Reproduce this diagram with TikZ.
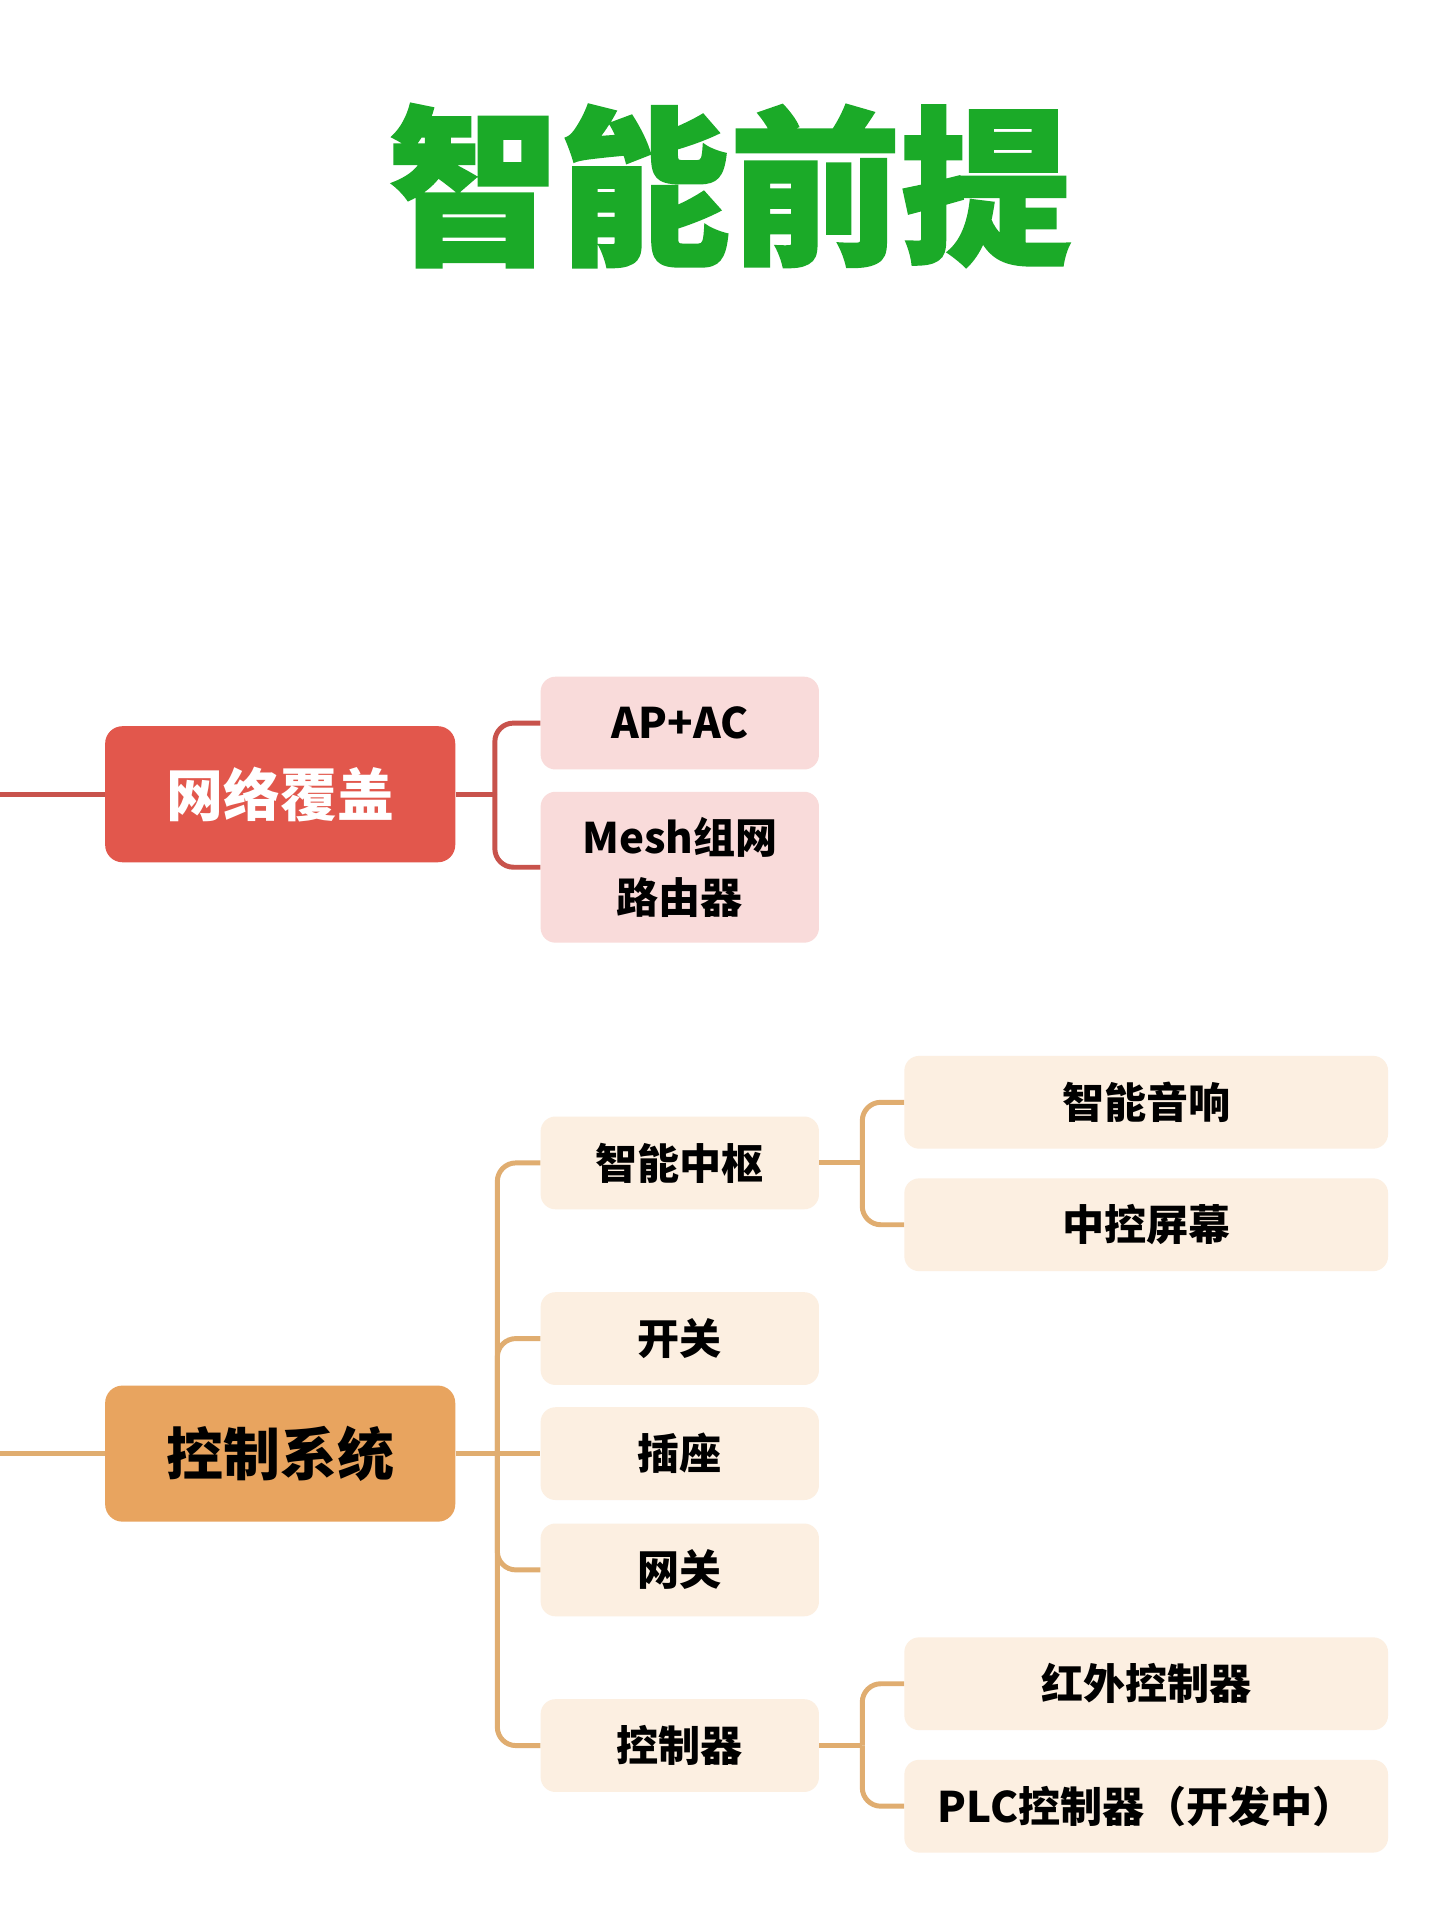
\documentclass[tikz,border=0pt]{standalone}
\usepackage{fontspec}
\setmainfont{Noto Sans CJK SC}
\newfontfamily\titlefont{Noto Sans CJK SC}[BoldFeatures={FakeBold=1.5}]
\definecolor{titlegreen}{HTML}{1BAA28}
\definecolor{netred}{HTML}{E2574C}
\definecolor{netline}{HTML}{C8534C}
\definecolor{netpink}{HTML}{F9DBDA}
\definecolor{ctrlorange}{HTML}{E8A45F}
\definecolor{ctrlline}{HTML}{E0AD70}
\definecolor{ctrlcream}{HTML}{FCEFE1}
\tikzset{
  mainbox/.style={rounded corners=14pt, minimum width=283pt, minimum height=110pt, inner sep=0pt,
    font=\fontsize{46pt}{52pt}\selectfont\bfseries},
  childbox/.style={rounded corners=12pt, minimum width=225pt, minimum height=75pt, inner sep=0pt,
    align=center, font=\fontsize{34pt}{48pt}\selectfont\bfseries},
  leafbox/.style={rounded corners=12pt, minimum width=391pt, minimum height=75pt, inner sep=0pt,
    font=\fontsize{34pt}{40pt}\selectfont\bfseries, fill=ctrlcream},
  netlink/.style={draw=netline, line width=4pt, rounded corners=15pt},
  ctrllink/.style={draw=ctrlline, line width=4pt, rounded corners=15pt},
}
\begin{document}
\begin{tikzpicture}[x=1pt, y=-1pt]
\useasboundingbox[fill=white] (0,0) rectangle (1164,1552);
% title
\node[text=titlegreen, inner sep=0pt, font=\titlefont\fontsize{138pt}{150pt}\selectfont\bfseries] (title) at (590,150) {智能前提};
% network section
\coordinate (l1) at (0,642);
\coordinate (j1) at (400,642);
\node[mainbox, fill=netred, text=white] (net) at (226.5,642) {网络覆盖};
\node[childbox, fill=netpink] (ap) at (549.5,584.5) {AP+AC};
\node[childbox, fill=netpink, minimum height=122pt] (mesh) at (549.5,701) {Mesh组网\\路由器};
\draw[netlink] (l1) -- (net.west);
\draw[netlink] (net.east) -- (j1);
\draw[netlink] (j1) |- (ap.west);
\draw[netlink] (j1) |- (mesh.west);
% control section
\coordinate (l2) at (0,1175);
\coordinate (j2) at (402,1175);
\coordinate (j3) at (697,940);
\coordinate (j4) at (697,1411);
\node[mainbox, fill=ctrlorange, text=black] (ctrl) at (226.5,1175) {控制系统};
\node[childbox, fill=ctrlcream] (zn) at (549.5,940) {智能中枢};
\node[childbox, fill=ctrlcream] (kg) at (549.5,1082) {开关};
\node[childbox, fill=ctrlcream] (cz) at (549.5,1175) {插座};
\node[childbox, fill=ctrlcream] (wg) at (549.5,1269) {网关};
\node[childbox, fill=ctrlcream] (kzq) at (549.5,1411) {控制器};
\node[leafbox] (yx) at (926.5,891) {智能音响};
\node[leafbox] (pm) at (926.5,990) {中控屏幕};
\node[leafbox] (hw) at (926.5,1361) {红外控制器};
\node[leafbox] (plc) at (926.5,1460) {PLC控制器（开发中）};
\draw[ctrllink] (l2) -- (ctrl.west);
\draw[ctrllink] (ctrl.east) -- (j2);
\draw[ctrllink] (j2) |- (zn.west);
\draw[ctrllink] (j2) |- (kg.west);
\draw[ctrllink] (j2) -- (cz.west);
\draw[ctrllink] (j2) |- (wg.west);
\draw[ctrllink] (j2) |- (kzq.west);
\draw[ctrllink] (zn.east) -- (j3);
\draw[ctrllink] (j3) |- (yx.west);
\draw[ctrllink] (j3) |- (pm.west);
\draw[ctrllink] (kzq.east) -- (j4);
\draw[ctrllink] (j4) |- (hw.west);
\draw[ctrllink] (j4) |- (plc.west);
\end{tikzpicture}
\end{document}
